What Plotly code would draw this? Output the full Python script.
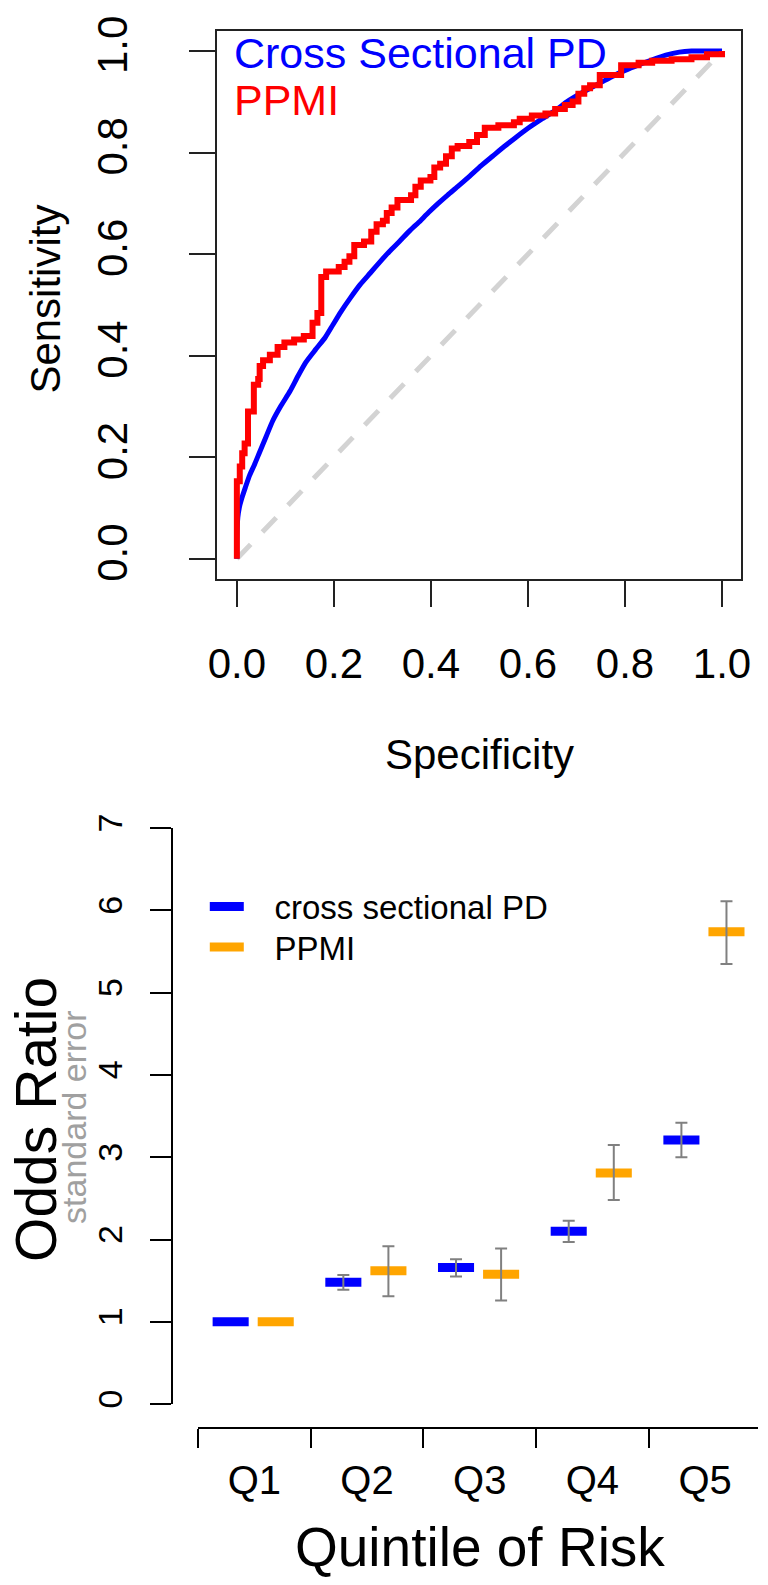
import plotly.graph_objects as go

# ---------------- ROC data (top panel) ----------------
cs_spec = [0.0, 0.0, 0.002, 0.006, 0.010, 0.018, 0.026, 0.036, 0.046, 0.060, 0.074, 0.090,
           0.110, 0.126, 0.142, 0.162, 0.182, 0.198, 0.214, 0.234, 0.254, 0.275, 0.295,
           0.315, 0.335, 0.355, 0.375, 0.395, 0.415, 0.435, 0.455, 0.480, 0.503, 0.527,
           0.551, 0.575, 0.600, 0.628, 0.656, 0.680, 0.704, 0.728, 0.752, 0.776, 0.800,
           0.828, 0.856, 0.884, 0.912, 0.937, 1.0]
cs_sens = [0.0, 0.040, 0.082, 0.105, 0.119, 0.142, 0.164, 0.185, 0.208, 0.240, 0.272, 0.300,
           0.331, 0.360, 0.387, 0.412, 0.436, 0.461, 0.486, 0.514, 0.540, 0.563, 0.585,
           0.606, 0.625, 0.645, 0.663, 0.682, 0.700, 0.717, 0.733, 0.754, 0.774, 0.793,
           0.812, 0.830, 0.848, 0.866, 0.883, 0.900, 0.914, 0.927, 0.939, 0.951, 0.962,
           0.973, 0.983, 0.992, 0.998, 1.0, 1.0]

ppmi_spec = [0.0, 0.0, 0.006, 0.011, 0.016, 0.023, 0.035, 0.044, 0.047, 0.054, 0.068, 0.084,
             0.098, 0.118, 0.138, 0.156, 0.166, 0.174, 0.184, 0.210, 0.222, 0.232, 0.242,
             0.262, 0.277, 0.288, 0.301, 0.309, 0.319, 0.331, 0.359, 0.368, 0.379, 0.399,
             0.407, 0.419, 0.431, 0.443, 0.455, 0.479, 0.495, 0.511, 0.539, 0.571, 0.583,
             0.608, 0.636, 0.656, 0.676, 0.692, 0.704, 0.716, 0.728, 0.748, 0.792, 0.828,
             0.856, 0.896, 0.937, 0.969, 1.0]
ppmi_sens = [0.0, 0.153, 0.182, 0.208, 0.227, 0.290, 0.343, 0.354, 0.380, 0.391, 0.402, 0.417,
             0.426, 0.432, 0.439, 0.465, 0.484, 0.555, 0.566, 0.575, 0.585, 0.596, 0.618,
             0.625, 0.644, 0.659, 0.666, 0.681, 0.692, 0.707, 0.716, 0.733, 0.745, 0.752,
             0.771, 0.778, 0.793, 0.808, 0.813, 0.821, 0.835, 0.849, 0.854, 0.860, 0.867,
             0.873, 0.877, 0.886, 0.894, 0.901, 0.916, 0.927, 0.933, 0.953, 0.972, 0.977,
             0.981, 0.984, 0.988, 0.994, 1.0]

chance_line = [0.0, 1.0]
roc_ticks = [0.0, 0.2, 0.4, 0.6, 0.8, 1.0]

# ---------------- Odds ratio data (bottom panel) ----------------
quintiles = ["Q1", "Q2", "Q3", "Q4", "Q5"]
cs_or = [1.00, 1.48, 1.66, 2.10, 3.21]
cs_hi = [1.00, 1.57, 1.76, 2.23, 3.42]
cs_lo = [1.00, 1.39, 1.55, 1.97, 3.00]
ppmi_or = [1.00, 1.62, 1.58, 2.81, 5.74]
ppmi_hi = [1.00, 1.92, 1.89, 3.15, 6.11]
ppmi_lo = [1.00, 1.31, 1.26, 2.48, 5.35]
or_ticks = [0, 1, 2, 3, 4, 5, 6, 7]

# ---------------- geometry helpers ----------------
W, H = 768, 1585
FONT = "Liberation Sans, Arial, Helvetica, sans-serif"


def fx(p):
    return p / W


def fy(p):
    return 1 - p / H


BLUE = "#0000ff"
RED = "#ff0000"
ORANGE = "#ffa500"
GREY = "#808080"
GAP = "\u2002\u00a0"  # extra gap between legend key and label

fig = go.Figure()

# chance diagonal
fig.add_trace(go.Scatter(x=chance_line, y=chance_line, mode="lines",
                         line=dict(color="#d3d3d3", width=5, dash="20px,17px"),
                         showlegend=False, hoverinfo="skip", xaxis="x", yaxis="y"))
fig.add_trace(go.Scatter(x=cs_spec, y=cs_sens, mode="lines", name="Cross Sectional PD",
                         line=dict(color=BLUE, width=5, shape="spline", smoothing=0.6),
                         showlegend=False, xaxis="x", yaxis="y"))
fig.add_trace(go.Scatter(x=ppmi_spec, y=ppmi_sens, mode="lines", name="PPMI",
                         line=dict(color=RED, width=6, shape="hv"), showlegend=False,
                         xaxis="x", yaxis="y"))

# bottom panel: horizontal bars for each quintile
centers = [i + 0.5 for i in range(len(quintiles))]
OFF_CS, OFF_PP, HALF = -0.21, 0.19, 0.16


def bar_segments(offset, vals):
    xs, ys = [], []
    for c, v in zip(centers, vals):
        xs += [c + offset - HALF, c + offset + HALF, None]
        ys += [v, v, None]
    return xs, ys


for name, vals, off, col, leg in [("cross sectional PD", cs_or, OFF_CS, BLUE, "legend"),
                                  ("PPMI", ppmi_or, OFF_PP, ORANGE, "legend2")]:
    xs, ys = bar_segments(off, vals)
    fig.add_trace(go.Scatter(x=xs, y=ys, mode="lines", name=GAP + name,
                             line=dict(color=col, width=9), showlegend=True,
                             legend=leg, xaxis="x2", yaxis="y2"))

for vals, hi, lo, off in [(cs_or, cs_hi, cs_lo, OFF_CS), (ppmi_or, ppmi_hi, ppmi_lo, OFF_PP)]:
    idx = [i for i in range(len(vals)) if hi[i] > lo[i]]
    fig.add_trace(go.Scatter(
        x=[centers[i] + off for i in idx], y=[vals[i] for i in idx], mode="markers",
        marker=dict(size=1, color="rgba(0,0,0,0)"),
        error_y=dict(type="data", symmetric=False,
                     array=[hi[i] - vals[i] for i in idx],
                     arrayminus=[vals[i] - lo[i] for i in idx],
                     color=GREY, thickness=2, width=6),
        showlegend=False, hoverinfo="skip", xaxis="x2", yaxis="y2"))

legend_style = dict(xanchor="left", yanchor="top", bgcolor="rgba(0,0,0,0)", borderwidth=0,
                    font=dict(size=33, family=FONT, color="black"), itemwidth=34)

fig.update_layout(
    width=W, height=H, autosize=False,
    margin=dict(l=0, r=0, t=0, b=0),
    paper_bgcolor="white", plot_bgcolor="white",
    font=dict(family=FONT, color="black"),
    xaxis=dict(domain=[fx(213), fx(751)], range=[-0.04, 1.04], anchor="y",
               showgrid=False, zeroline=False, showline=True, mirror=True,
               linecolor="#222", linewidth=2,
               tickmode="array", tickvals=roc_ticks, tickformat=".1f",
               ticks="outside", ticklen=26, tickwidth=2, tickcolor="#222",
               tickfont=dict(size=42, family=FONT), ticklabelstandoff=20),
    yaxis=dict(domain=[fy(571), fy(16)], range=[-0.04, 1.04], anchor="x",
               showgrid=False, zeroline=False, showline=True, mirror=True,
               linecolor="#222", linewidth=2,
               tickmode="array", tickvals=roc_ticks, tickformat=".1f", tickangle=-90,
               ticks="outside", ticklen=26, tickwidth=2, tickcolor="#222",
               tickfont=dict(size=42, family=FONT), ticklabelstandoff=46),
    xaxis2=dict(domain=[fx(193), 1.0], range=[0, 575 / 115.7], anchor="free",
                position=fy(1430),
                showgrid=False, zeroline=False, showline=True, linecolor="black",
                linewidth=2, tickmode="array", tickvals=centers, ticktext=quintiles,
                ticks="", tickfont=dict(size=40, family=FONT), ticklabelstandoff=17,
                minor=dict(tickmode="array", tickvals=[0, 1, 2, 3, 4, 5], ticks="outside",
                           ticklen=19, tickwidth=2, tickcolor="black", showgrid=False)),
    yaxis2=dict(domain=[fy(1406), fy(823)], range=[0, 7], anchor="free",
                position=fx(166),
                showgrid=False, zeroline=False, showline=True, linecolor="black",
                linewidth=2, tickmode="array", tickvals=or_ticks, tickangle=-90,
                ticks="outside", ticklen=21, tickwidth=2, tickcolor="black",
                tickfont=dict(size=34, family=FONT), ticklabelstandoff=14),
    legend=dict(x=fx(200), y=fy(874), **legend_style),
    legend2=dict(x=fx(200), y=fy(915), **legend_style),
    showlegend=True,
)

annotations = [
    dict(text="Cross Sectional PD", x=fx(228), y=fy(38), xanchor="left", yanchor="middle",
         font=dict(size=43, color=BLUE, family=FONT)),
    dict(text="PPMI", x=fx(228), y=fy(86), xanchor="left", yanchor="middle",
         font=dict(size=43, color=RED, family=FONT)),
    dict(text="Specificity", x=fx(482), y=fy(748), xanchor="center", yanchor="middle",
         font=dict(size=42, family=FONT)),
    dict(text="Sensitivity", x=fx(36), y=fy(288), xanchor="center", yanchor="middle",
         textangle=-90, font=dict(size=42, family=FONT)),
    dict(text="Odds Ratio", x=fx(26), y=fy(1118), xanchor="center", yanchor="middle",
         textangle=-90, font=dict(size=57, family=FONT)),
    dict(text="standard error", x=fx(65), y=fy(1115), xanchor="center", yanchor="middle",
         textangle=-90, font=dict(size=34, color="#a0a0a0", family=FONT)),
    dict(text="Quintile of Risk", x=fx(483), y=fy(1551), xanchor="center", yanchor="middle",
         font=dict(size=55, family=FONT)),
]
for a in annotations:
    a.update(xref="paper", yref="paper", showarrow=False)
fig.update_layout(annotations=annotations)

fig.write_html("out.html", config={"displayModeBar": False},
               post_script="document.body.style.margin='0';")
